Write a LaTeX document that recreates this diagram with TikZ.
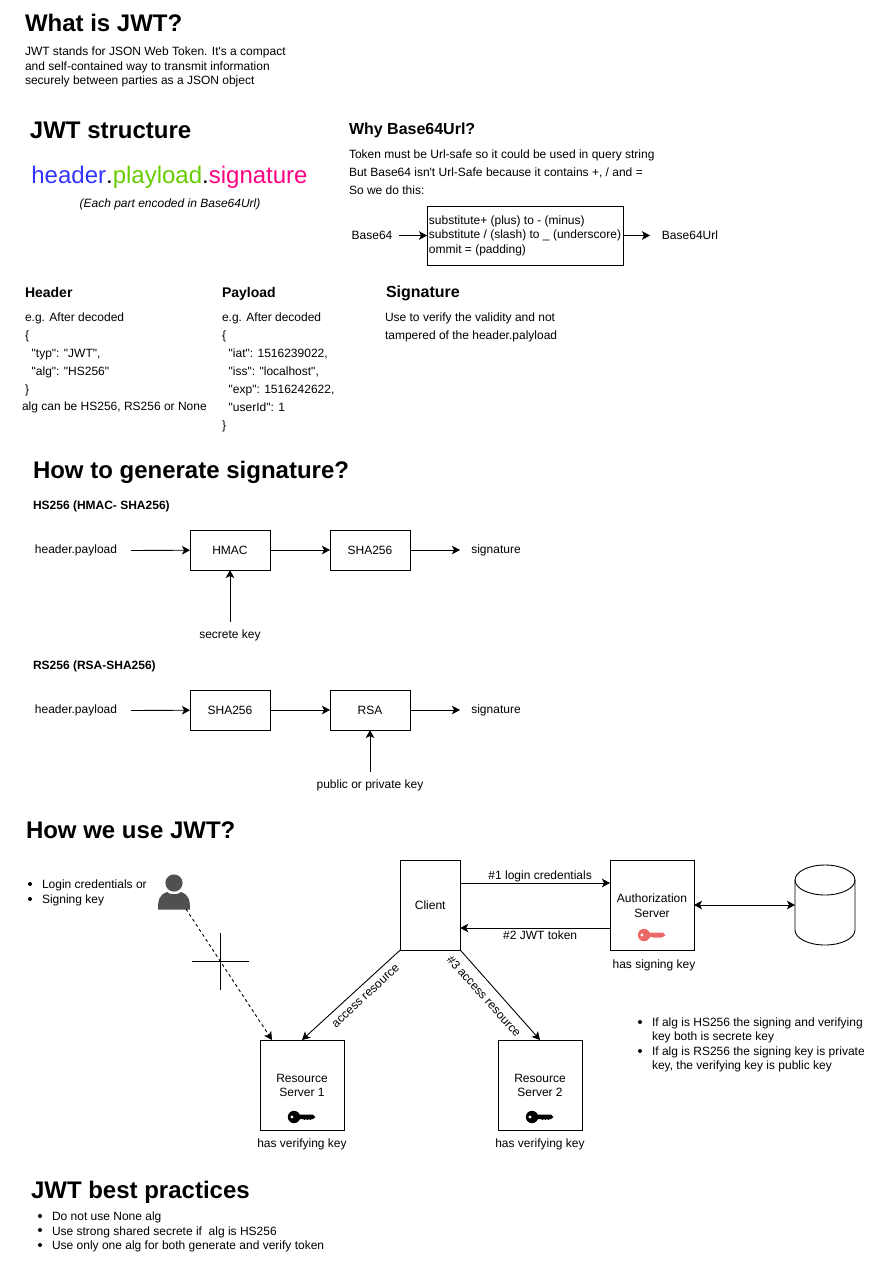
\documentclass[tikz,border=0pt]{standalone}
\usepackage{fontspec}
\setmainfont{Liberation Sans}
\usetikzlibrary{arrows.meta}
\definecolor{headerblue}{HTML}{3333FF}
\definecolor{payloadgreen}{HTML}{66CC00}
\definecolor{signpink}{HTML}{FF0080}
\definecolor{keyred}{HTML}{EA6B66}
\definecolor{persongrey}{HTML}{505050}
\newcommand{\sz}[2]{\fontsize{#1}{#2}\selectfont}
\newcommand{\drawkey}[3]{%
  \begin{scope}[shift={(#1,#2)}]%
    \fill[#3] (-8,0) circle (6.2);%
    \fill[#3] (-4,-2.5) -- (11,-2.5) -- (13.5,0) -- (11,2) -- (9.5,2) -- (8.5,3) -- (7,2)
      -- (5.5,3) -- (4,2) -- (2.5,3) -- (1,2) -- (-4,2) -- cycle;%
    \fill[white] (-10,0) circle (1.7);%
  \end{scope}%
}
\newcommand{\drawbullet}[2]{\fill (#1,#2) circle (2);}
\tikzset{
  every node/.style={inner sep=0pt,outer sep=0pt,text=black},
  flow/.style={-{Stealth[length=8pt,width=8.5pt,inset=2pt]},line width=0.9pt},
  box/.style={draw,line width=0.9pt,minimum width=80pt,minimum height=40pt,font=\sz{12}{14.5},align=center},
  server/.style={box,minimum width=84pt,minimum height=90pt},
  bigtitle/.style={anchor=base west,font=\sz{24}{28}\bfseries},
  subtitle/.style={anchor=base west,font=\sz{16}{20}\bfseries},
  smalltitle/.style={anchor=base west,font=\sz{14}{18}\bfseries},
  tinytitle/.style={anchor=base west,font=\sz{12}{14}\bfseries},
  tight/.style={anchor=north west,align=left,font=\sz{12}{14.5}},
  loose/.style={anchor=north west,align=left,font=\sz{12}{18}},
  plain/.style={font=\sz{12}{14.5}},
}

\begin{document}
\begin{tikzpicture}[x=1pt,y=-1pt,line width=0.9pt]
  \useasboundingbox (0,0) rectangle (870,1270);
  % what is jwt
  \node[bigtitle] (whatTitle) at (25,31) {What is JWT?};
  \node[tight] (whatText) at (25,47) {JWT stands for JSON Web Token. It\textquotesingle s a compact\\and self-contained way to transmit information\\securely between parties as a JSON object};
  % structure
  \node[bigtitle] (structTitle) at (30,138) {JWT structure};
  \node[anchor=base,font=\sz{24}{28}] (structLine) at (169.5,183) {\textcolor{headerblue}{header}.\textcolor{payloadgreen}{playload}.\textcolor{signpink}{signature}};
  \node[plain,font=\sz{12}{14.5}\itshape] (structNote) at (170,204.5) {(Each part encoded in Base64Url)};
  % base64url
  \node[subtitle] (whyTitle) at (349,134) {Why Base64Url?};
  \node[loose] (whyText) at (349,150) {Token must be Url-safe so it could be used in query string\\But Base64 isn\textquotesingle t Url-Safe because it contains +, / and =\\So we do this:};
  \node[draw,line width=0.9pt,minimum width=196pt,minimum height=59pt,align=left,font=\sz{12}{14.5}] (subst) at (525,235.5) {substitute+ (plus) to - (minus)\\substitute / (slash) to \_ (underscore)\\ommit = (padding)};
  \node[plain] (base64) at (372,235.5) {Base64};
  \node[plain] (base64url) at (690,235.5) {Base64Url};
  \draw[flow] (base64.east) ++(7,0) -- (subst.west);
  \draw[flow] (subst.east) -- ++(27,0);
  % header payload signature
  \node[smalltitle] (headerTitle) at (25,297) {Header};
  \node[loose] (headerText) at (25,313) {e.g. After decoded\\\{\\\ \ \textquotedbl typ\textquotedbl: \textquotedbl JWT\textquotedbl,\\\ \ \textquotedbl alg\textquotedbl: \textquotedbl HS256\textquotedbl\\\}};
  \node[plain,anchor=west] (headerAlg) at (22,407.5) {alg can be HS256, RS256 or None};
  \node[smalltitle] (payloadTitle) at (222,297) {Payload};
  \node[loose] (payloadText) at (222,313) {e.g. After decoded\\\{\\\ \ \textquotedbl iat\textquotedbl: 1516239022,\\\ \ \textquotedbl iss\textquotedbl: \textquotedbl localhost\textquotedbl,\\\ \ \textquotedbl exp\textquotedbl: 1516242622,\\\ \ \textquotedbl userId\textquotedbl: 1\\\}};
  \node[subtitle] (signTitle) at (386,297) {Signature};
  \node[loose] (signText) at (385,313) {Use to verify the validity and not\\tampered of the header.palyload};
  % generate signature
  \node[bigtitle] (genTitle) at (33,478) {How to generate signature?};
  \node[tinytitle] (hsTitle) at (33,509) {HS256 (HMAC- SHA256)};
  \node[plain] (hsInput) at (76,550.5) {header.payload};
  \node[box] (hsHmac) at (230,550) {HMAC};
  \node[box] (hsSha) at (370,550) {SHA256};
  \node[plain] (hsOut) at (496,550.5) {signature};
  \node[plain] (hsKey) at (230,635.5) {secrete key};
  \draw[flow] (hsInput.east) ++(14,0) -- (hsHmac);
  \draw[flow] (hsHmac) -- (hsSha);
  \draw[flow] (hsSha.east) -- ++(50,0);
  \draw[flow] (hsKey.north) ++(0,-8) -- (hsHmac);
  \node[tinytitle] (rsTitle) at (33,669) {RS256 (RSA-SHA256)};
  \node[plain] (rsInput) at (76,710.5) {header.payload};
  \node[box] (rsSha) at (230,710) {SHA256};
  \node[box] (rsRsa) at (370,710) {RSA};
  \node[plain] (rsOut) at (496,710.5) {signature};
  \node[plain] (rsKey) at (370,785.5) {public or private key};
  \draw[flow] (rsInput.east) ++(14,0) -- (rsSha);
  \draw[flow] (rsSha) -- (rsRsa);
  \draw[flow] (rsRsa.east) -- ++(50,0);
  \draw[flow] (rsKey.north) ++(0,-8) -- (rsRsa);
  % how we use it
  \node[bigtitle] (useTitle) at (26,838) {How we use JWT?};
  \drawbullet{30}{884}
  \drawbullet{30}{899}
  \node[tight] (useList) at (42,880) {Login credentials or\\Signing key};
  % person
  \fill[persongrey] (174,883) circle (8.6);
  \fill[persongrey] (158,909.5) .. controls (158,900) and (159,895) .. (167,892)
    .. controls (170,895) and (178,895) .. (181,892)
    .. controls (189,895) and (190,900) .. (190,909.5) -- cycle;
  \coordinate (person) at (186,909);
  \node[box,minimum width=60pt,minimum height=90pt] (client) at (430.25,905) {Client};
  \node[server] (auth) at (652,905) {};
  \node[plain,align=center] (authText) at (652,905.5) {Authorization\\Server};
  \drawkey{652}{935}{keyred}
  \node[plain] (authNote) at (654,965.5) {has signing key};
  % database
  \node[minimum width=60pt,minimum height=80pt] (db) at (825,905) {};
  \draw ([yshift=25pt]db.center) ellipse [x radius=30pt,y radius=15pt];
  \draw ([yshift=25pt]db.west) -- ([yshift=-25pt]db.west)
    arc [start angle=180,end angle=360,x radius=30pt,y radius=15pt] -- ([yshift=25pt]db.east);
  \node[server] (res1) at (302,1085) {};
  \node[plain,align=center] (res1Text) at (302,1085.5) {Resource\\Server 1};
  \drawkey{302}{1117}{black}
  \node[plain] (res1Note) at (302,1144.5) {has verifying key};
  \node[server] (res2) at (540,1085) {};
  \node[plain,align=center] (res2Text) at (540,1085.5) {Resource\\Server 2};
  \drawkey{540}{1117}{black}
  \node[plain] (res2Note) at (540,1144.5) {has verifying key};
  \draw[flow] ([yshift=22pt]client.east) -- ([yshift=22pt]auth.west) node[midway,above=1pt,plain,xshift=5pt] (loginLabel) {\#1 login credentials};
  \draw[flow] ([yshift=-23pt]auth.west) -- ([yshift=-23pt]client.east) node[midway,below=2.5pt,plain,xshift=5pt] (tokenLabel) {\#2 JWT token};
  \draw[flow,{Stealth[length=8pt,width=8.5pt,inset=2pt]}-{Stealth[length=8pt,width=8.5pt,inset=2pt]}] (auth.east) -- (db.west);
  \draw[flow] (client.south west) -- (res1.north);
  \draw[flow] (client.south east) -- (res2.north);
  \node[plain,rotate=43] (accessLabel) at (366,996) {access resource};
  \node[plain,rotate=-48] (access3Label) at (484,996) {\#3 access resource};
  \draw[flow,dashed] (person) -- ([xshift=-30pt]res1.north);
  \coordinate (crossW) at (192,961.5);
  \coordinate (crossE) at (249,961.5);
  \coordinate (crossN) at (220.5,933);
  \coordinate (crossS) at (220.5,990);
  \draw (crossW) -- (crossE);
  \draw (crossN) -- (crossS);
  % signing and verifying keys
  \drawbullet{640}{1022}
  \drawbullet{640}{1051}
  \node[tight] (keysList) at (652,1017.5) {If alg is HS256 the signing and verifying\\key both is secrete key\\If alg is RS256 the signing key is private\\key, the verifying key is public key};
  % best practices
  \node[bigtitle] (bestTitle) at (31,1198) {JWT best practices};
  \drawbullet{40}{1216}
  \drawbullet{40}{1230}
  \drawbullet{40}{1245}
  \node[tight] (bestList) at (52,1212) {Do not use None alg\\Use strong shared secrete if\ \ alg is HS256\\Use only one alg for both generate and verify token};
\end{tikzpicture}
\end{document}
